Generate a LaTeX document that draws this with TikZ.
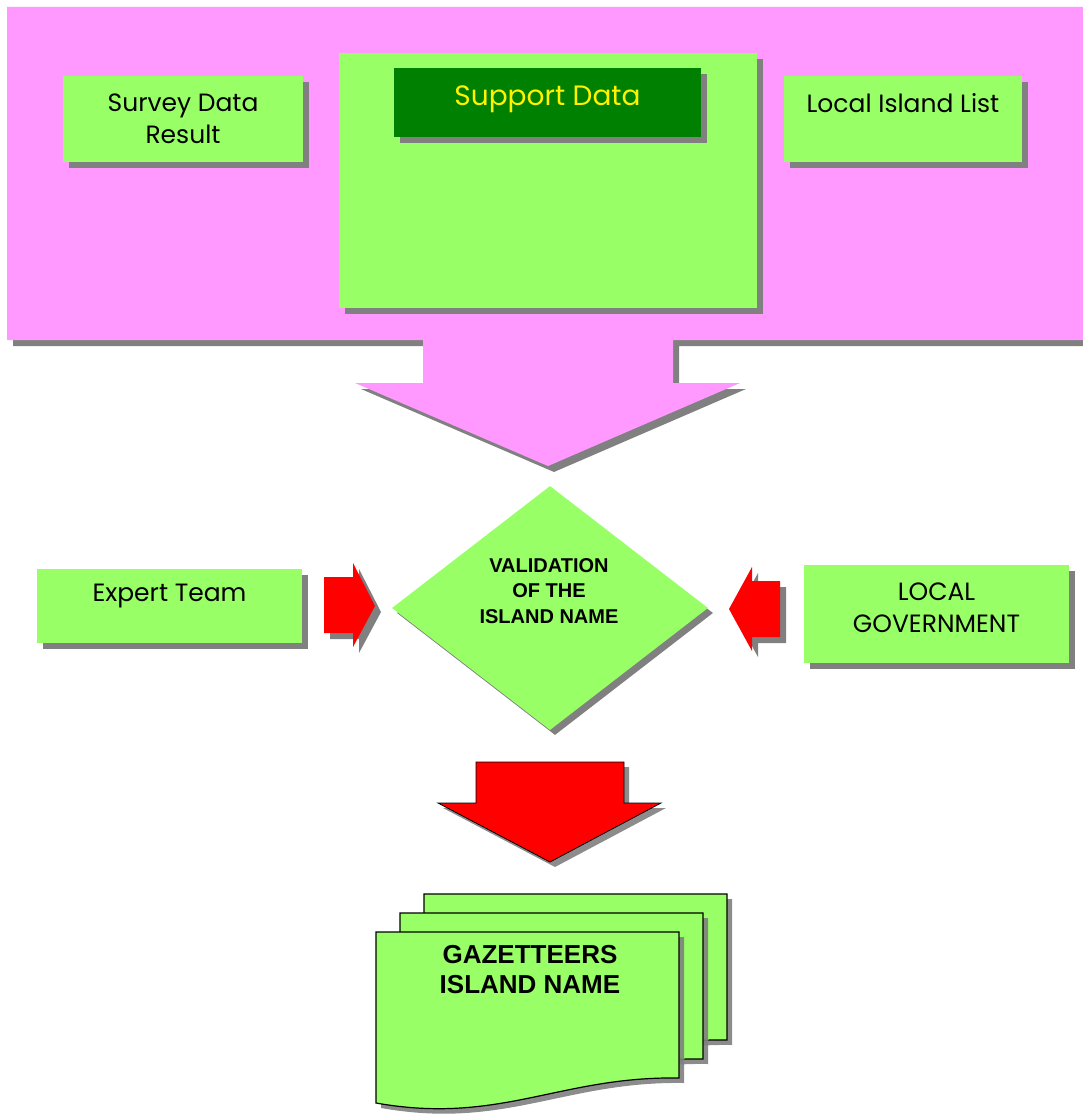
\documentclass[tikz,border=0pt]{standalone}
\usepackage{fontspec}
\usepackage{tikz}
\usetikzlibrary{shadows, shapes.geometric}

\newfontfamily\gothic{Poppins}
\newfontfamily\boldsans{Liberation Sans}

\definecolor{pinkbg}{HTML}{FF99FF}
\definecolor{lightgreen}{HTML}{99FF66}
\definecolor{darkgreen}{HTML}{008000}
\definecolor{shadowgray}{HTML}{808080}

\tikzset{
  grayshadow/.style = {drop shadow = {shadow xshift = 6pt, shadow yshift = -6pt,
      fill = shadowgray, opacity = 1}},
  box/.style = {rectangle, fill = lightgreen, grayshadow, inner sep = 0pt},
  boxtext/.style = {align = center, inner sep = 0pt,
      font = \gothic\fontsize{25}{32}\selectfont},
  boldtext/.style = {align = center, inner sep = 0pt, font = \boldsans\bfseries},
  docsheet/.style = {fill = lightgreen, draw = black, line width = 1.2pt,
      drop shadow = {shadow xshift = 5pt, shadow yshift = -5pt,
      fill = shadowgray, opacity = 0.9}}
}

\begin{document}
\begin{tikzpicture}[x = 1pt, y = -1pt]
\useasboundingbox (0, 0) rectangle (1083, 1116);

% pink panel running into the big arrow
\fill[pinkbg, grayshadow] (7, 7) -- (1083, 7) -- (1083, 340) -- (673, 340)
  -- (673, 383) -- (740, 383) -- (548, 466) -- (355, 383) -- (423, 383)
  -- (423, 340) -- (7, 340) -- cycle;

\node[box, minimum width = 240, minimum height = 86] (survey) at (183, 119) {};
\node[boxtext] (surveytext) at (survey) {Survey Data\\Result};

\node[box, minimum width = 418, minimum height = 255] (support) at (548, 180.5) {};
\node[box, fill = darkgreen, minimum width = 307, minimum height = 69]
  (supporttitle) at (547.5, 102.5) {};
\node[boxtext, text = yellow, font = \gothic\fontsize{28}{34}\selectfont]
  (supporttext) at (547.5, 99) {Support Data};

\node[box, minimum width = 238, minimum height = 86] (islandlist) at (903, 119) {};
\node[boxtext] (islandlisttext) at (903, 103) {Local Island List};

\node[box, minimum width = 265, minimum height = 74] (expert) at (169.5, 606) {};
\node[boxtext] (experttext) at (169.5, 596) {Expert Team};

\node[box, minimum width = 265, minimum height = 98] (localgov) at (936.5, 614) {};
\node[boxtext] (localgovtext) at (936.5, 608) {LOCAL\\GOVERNMENT};

\node[diamond, fill = lightgreen, inner sep = 0pt, minimum width = 316,
  minimum height = 244, drop shadow = {shadow xshift = 5pt, shadow yshift = -5pt,
  fill = shadowgray, opacity = 1}] (validation) at (550, 608) {};
\node[boldtext, font = \boldsans\bfseries\fontsize{20}{25.5}\selectfont]
  (validationtext) at (549, 591) {VALIDATION\\OF THE\\ISLAND NAME};

% side arrows
\fill[red, grayshadow] (324, 577) -- (353, 577) -- (353, 563) -- (375, 606)
  -- (353, 647) -- (353, 633) -- (324, 633) -- cycle;
\fill[red, grayshadow] (780, 581) -- (752, 581) -- (752, 567) -- (729, 609)
  -- (752, 651) -- (752, 637) -- (780, 637) -- cycle;

% down arrow
\draw[fill = red, draw = black, line width = 0.8pt, drop shadow = {shadow xshift = 5pt,
  shadow yshift = -5pt, fill = shadowgray, opacity = 0.9}]
  (476, 762) -- (624, 762) -- (624, 803) -- (661, 803) -- (550, 862)
  -- (438, 803) -- (476, 803) -- cycle;

% stack of documents
\foreach \dx/\dy in {48/-38, 24/-19, 0/0}
  \draw[docsheet, shift = {(\dx, \dy)}] (376, 932) -- (679, 932) -- (679, 1078)
    .. controls (560, 1076) and (500, 1125) .. (376, 1103) -- cycle;
\node[boldtext, font = \boldsans\bfseries\fontsize{26}{30}\selectfont]
  (gazetteers) at (530, 970) {GAZETTEERS\\ISLAND NAME};
\end{tikzpicture}
\end{document}
